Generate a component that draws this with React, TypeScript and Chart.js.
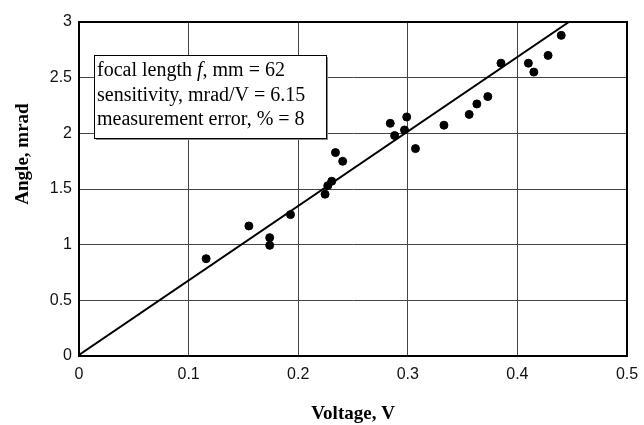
import React, { useEffect, useRef } from "react";
import { Chart, registerables } from "chart.js";

Chart.register(...registerables);

const voltage = [0.116, 0.155, 0.174, 0.174, 0.193, 0.2245, 0.227, 0.2306, 0.234, 0.2406, 0.284, 0.288, 0.297, 0.299, 0.307, 0.333, 0.356, 0.363, 0.373, 0.385, 0.41, 0.415, 0.428, 0.44];
const angle = [0.874, 1.168, 0.994, 1.063, 1.27, 1.453, 1.53, 1.57, 1.827, 1.749, 2.09, 1.98, 2.03, 2.147, 1.863, 2.073, 2.17, 2.264, 2.33, 2.63, 2.63, 2.55, 2.7, 2.88];
const fitX = [0, 0.447];
const fitY = [0.01, 3];
const xTicks = [0, 0.1, 0.2, 0.3, 0.4, 0.5];
const yTicks = [0, 0.5, 1, 1.5, 2, 2.5, 3];
const infoLines = [
  { pre: "focal length ", it: "f", post: ", mm = 62" },
  { pre: "sensitivity, mrad/V = 6.15", it: "", post: "" },
  { pre: "measurement error, % = 8", it: "", post: "" },
];
const xTitle = "Voltage, V";
const yTitle = "Angle, mrad";

const overlay = {
  id: "overlay",
  afterDraw(chart: any) {
    const ctx = chart.ctx;
    const a = chart.chartArea;
    ctx.save();
    // frame
    ctx.strokeStyle = "#000";
    ctx.lineWidth = 2;
    ctx.strokeRect(a.left, a.top, a.right - a.left, a.bottom - a.top);
    // info box
    const bx = a.left + 15, by = a.top + 33, bw = 232, bh = 83;
    ctx.fillStyle = "#888";
    ctx.fillRect(bx + 2, by + 2, bw, bh);
    ctx.fillStyle = "#fff";
    ctx.fillRect(bx, by, bw, bh);
    ctx.lineWidth = 1;
    ctx.strokeStyle = "#000";
    ctx.strokeRect(bx + 0.5, by + 0.5, bw, bh);
    ctx.fillStyle = "#000";
    ctx.textBaseline = "alphabetic";
    ctx.textAlign = "left";
    infoLines.forEach((ln, i) => {
      let x = bx + 3;
      const y = by + 21 + i * 24.5;
      ctx.font = "20px 'Liberation Serif'";
      ctx.fillText(ln.pre, x, y);
      x += ctx.measureText(ln.pre).width;
      if (ln.it) {
        ctx.font = "italic 20px 'Liberation Serif'";
        ctx.fillText(ln.it, x, y);
        x += ctx.measureText(ln.it).width;
        ctx.font = "20px 'Liberation Serif'";
        ctx.fillText(ln.post, x, y);
      }
    });
    // axis titles
    ctx.font = "bold 19px 'Liberation Serif'";
    ctx.textAlign = "center";
    ctx.textBaseline = "middle";
    ctx.fillText(xTitle, (a.left + a.right) / 2, a.bottom + 58);
    ctx.translate(23, a.top + 132);
    ctx.rotate(-Math.PI / 2);
    ctx.fillText(yTitle, 0, 0);
    ctx.restore();
  },
};

export default function App() {
  const ref = useRef<HTMLCanvasElement | null>(null);
  useEffect(() => {
    document.body.style.margin = "0";
    const pts = voltage.map((v, i) => ({ x: v, y: angle[i] }));
    const line = fitX.map((v, i) => ({ x: v, y: fitY[i] }));
    const chart = new Chart(ref.current as HTMLCanvasElement, {
      type: "scatter",
      data: {
        datasets: [
          {
            type: "line",
            data: line,
            borderColor: "#000",
            borderWidth: 2,
            pointRadius: 0,
            fill: false,
          } as any,
          {
            data: pts,
            backgroundColor: "#000",
            borderColor: "#000",
            pointRadius: 4,
            pointHoverRadius: 4,
          },
        ],
      },
      options: {
        animation: false,
        responsive: false,
        events: [],
        layout: { padding: { left: 0, right: 17, top: 22, bottom: 0 } },
        plugins: { legend: { display: false }, tooltip: { enabled: false } },
        scales: {
          x: {
            type: "linear",
            min: 0,
            max: 0.5,
            afterBuildTicks: (s: any) => { s.ticks = xTicks.map((v) => ({ value: v })); },
            afterFit: (s: any) => { s.height = 425 - 356; s.paddingRight = 0; s.paddingLeft = 0; },
            ticks: { color: "#111", font: { family: "'Liberation Sans'", size: 16 }, padding: 9, maxRotation: 0, callback: (v: any) => String(v) },
            grid: { color: "#444", lineWidth: 1, drawTicks: false },
            border: { display: true, color: "#000", width: 2 },
          },
          y: {
            type: "linear",
            min: 0,
            max: 3,
            afterBuildTicks: (s: any) => { s.ticks = yTicks.map((v) => ({ value: v })); },
            afterFit: (s: any) => { s.width = 79; s.paddingTop = 0; s.paddingBottom = 0; },
            ticks: { color: "#111", font: { family: "'Liberation Sans'", size: 16 }, padding: 7, callback: (v: any) => String(v) },
            grid: { color: "#444", lineWidth: 1, drawTicks: false },
            border: { display: true, color: "#000", width: 2 },
          },
        },
      },
      plugins: [overlay],
    });
    return () => chart.destroy();
  }, []);
  return <canvas ref={ref} width={644} height={425} style={{ display: "block" }} />;
}
